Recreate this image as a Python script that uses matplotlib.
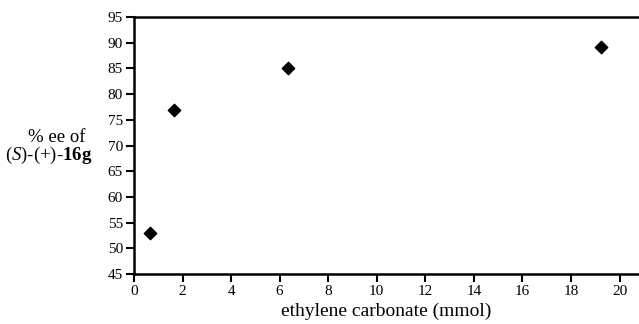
import numpy as np
import matplotlib
matplotlib.use("Agg")
import matplotlib.pyplot as plt

plt.rcParams['font.family'] = ['Liberation Serif', 'DejaVu Serif']
plt.rcParams['mathtext.fontset'] = 'custom'
plt.rcParams['mathtext.rm'] = 'Liberation Serif'
plt.rcParams['mathtext.it'] = 'Liberation Serif:italic'
plt.rcParams['mathtext.bf'] = 'Liberation Serif:bold'

# data
carbonate_mmol = [0.65, 1.65, 6.35, 19.25]
ee_percent = [53, 77, 85, 89.1]
xticks = [0, 2, 4, 6, 8, 10, 12, 14, 16, 18, 20]
yticks = [45, 50, 55, 60, 65, 70, 75, 80, 85, 90, 95]

fig = plt.figure(figsize=(6.39, 3.24), dpi=100)
ax = fig.add_axes([0.2097, 0.154, 0.7903, 0.7935])

ax.scatter(carbonate_mmol, ee_percent, marker='D', s=40, color='black', zorder=3)

ax.set_xlim(0, 20.8)
ax.set_ylim(45, 95)
ax.set_xticks(xticks)
ax.set_yticks(yticks)
ax.tick_params(direction='out', length=6, width=1.5, labelsize=11, pad=2)

ax.spines['right'].set_visible(False)
for s in ['left', 'bottom', 'top']:
    ax.spines[s].set_linewidth(1.8)

ax.set_xlabel('ethylene carbonate (mmol)', fontsize=14, labelpad=3)

fig.text(0.089, 0.577, '% ee of', fontsize=13.5, ha='center', va='center')
fig.text(0.077, 0.521, r'($\mathit{S}$)-(+)-$\mathbf{16g}$', fontsize=13.5,
         ha='center', va='center')

fig.savefig('out.png', dpi=100)
